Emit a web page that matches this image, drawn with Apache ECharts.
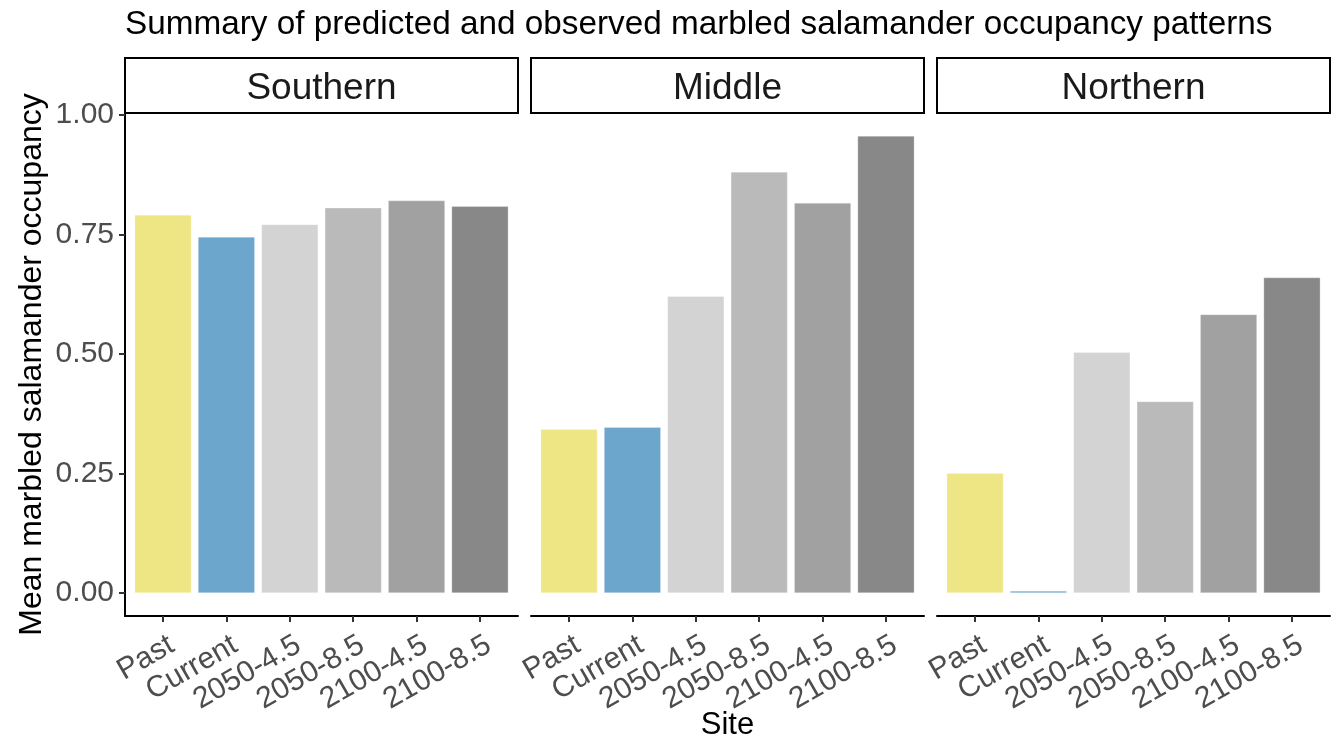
<!DOCTYPE html>
<html>
<head>
<meta charset="utf-8">
<title>Marbled salamander occupancy</title>
<script src="https://cdn.jsdelivr.net/npm/echarts@6/dist/echarts.min.js"></script>
<style>
  html, body { margin: 0; padding: 0; background: #ffffff; }
  #chart { width: 1337px; height: 742px; }
</style>
</head>
<body>
<div id="chart"></div>
<script>
// ---- data ----
const scenarios = ['Past', 'Current', '2050-4.5', '2050-8.5', '2100-4.5', '2100-8.5'];
const regions = ['Southern', 'Middle', 'Northern'];
const southern = [0.791, 0.745, 0.771, 0.806, 0.821, 0.809];
const middle   = [0.343, 0.347, 0.621, 0.881, 0.816, 0.956];
const northern = [0.251, 0.005, 0.504, 0.401, 0.583, 0.660];
const yTicks = [0, 0.25, 0.5, 0.75, 1.0];
const scenarioColors = ['#EEE685', '#6CA6CD', '#D3D3D3', '#BABABA', '#A1A1A1', '#888888'];

const regionValues = [southern, middle, northern];

// ---- layout ----
const FONT = '"Liberation Sans", Arial, sans-serif';
const panelLefts = [125, 531, 937];
const panelWidth = 393;
const panelTop = 113;
const panelBottom = 616;
const stripTop = 58;

// discrete axis with ggplot-like expansion (0.6 units each side)
const xMin = 1 - 0.6, xMax = scenarios.length + 0.6;
const unitPx = panelWidth / (xMax - xMin);
const barWidthPx = 0.9 * unitPx;
const labelShift = 0.02;

// continuous axis expanded by 5% of data range
const allVals = southern.concat(middle, northern);
const dataMax = Math.max.apply(null, allVals);
const dataMin = 0;
const pad = 0.05 * (dataMax - dataMin);
const yMin = dataMin - pad, yMax = dataMax + pad;

const chart = echarts.init(document.getElementById('chart'), null, { renderer: 'canvas' });

const grids = [], xAxes = [], yAxes = [], series = [], graphics = [];

regions.forEach(function (name, i) {
  grids.push({
    left: panelLefts[i], top: panelTop, width: panelWidth,
    height: panelBottom - panelTop, containLabel: false
  });
  xAxes.push({
    type: 'value', gridIndex: i, min: xMin, max: xMax,
    splitLine: { show: false },
    axisLine: { show: true, onZero: false, lineStyle: { color: '#000000', width: 2 } },
    axisTick: {
      show: true, length: 6, customValues: scenarios.map(function (_, k) { return k + 1; }),
      lineStyle: { color: '#333333', width: 2 }
    },
    axisLabel: {
      show: true, rotate: 30, margin: 14,
      customValues: scenarios.map(function (_, k) { return k + 1 + labelShift; }),
      formatter: function (v) { return scenarios[Math.round(v - labelShift) - 1]; },
      color: '#4D4D4D', fontSize: 30, fontFamily: FONT,
      align: 'right', verticalAlign: 'top'
    }
  });
  yAxes.push({
    type: 'value', gridIndex: i, min: yMin, max: yMax,
    splitLine: { show: false },
    axisLine: { show: i === 0, lineStyle: { color: '#000000', width: 2 } },
    axisTick: {
      show: i === 0, length: 6, customValues: yTicks,
      lineStyle: { color: '#333333', width: 2 }
    },
    axisLabel: {
      show: i === 0, customValues: yTicks, margin: 11,
      formatter: function (v) { return v.toFixed(2); },
      color: '#4D4D4D', fontSize: 30, fontFamily: FONT
    }
  });
  series.push({
    type: 'bar', xAxisIndex: i, yAxisIndex: i,
    barWidth: barWidthPx,
    silent: true,
    data: regionValues[i].map(function (v, k) {
      return {
        value: [k + 1, v],
        itemStyle: { color: scenarioColors[k], borderColor: 'rgba(255,255,255,0.35)', borderWidth: 0.8 }
      };
    })
  });
  // facet strip
  graphics.push({
    type: 'rect',
    shape: { x: panelLefts[i], y: stripTop, width: panelWidth, height: panelTop - stripTop },
    style: { fill: '#ffffff', stroke: '#000000', lineWidth: 2 }
  });
  graphics.push({
    type: 'text',
    x: panelLefts[i] + panelWidth / 2, y: (stripTop + panelTop) / 2 + 3,
    style: {
      text: name, fill: '#1A1A1A', fontSize: 37, fontFamily: FONT,
      align: 'center', verticalAlign: 'middle'
    }
  });
});

// axis titles
graphics.push({
  type: 'text', x: 32, y: (panelTop + panelBottom) / 2, rotation: Math.PI / 2,
  style: {
    text: 'Mean marbled salamander occupancy', fill: '#000000', fontSize: 32, fontFamily: FONT,
    align: 'center', verticalAlign: 'middle'
  }
});
graphics.push({
  type: 'text', x: panelLefts[0] + (panelLefts[2] + panelWidth - panelLefts[0]) / 2, y: 725,
  style: {
    text: 'Site', fill: '#000000', fontSize: 31, fontFamily: FONT,
    align: 'center', verticalAlign: 'middle'
  }
});

chart.setOption({
  backgroundColor: '#ffffff',
  animation: false,
  title: {
    text: 'Summary of predicted and observed marbled salamander occupancy patterns',
    left: panelLefts[0], top: 8, padding: 0,
    textStyle: { color: '#000000', fontSize: 33.3, fontWeight: 'normal', fontFamily: FONT }
  },
  grid: grids,
  xAxis: xAxes,
  yAxis: yAxes,
  series: series,
  graphic: graphics
});
</script>
</body>
</html>
